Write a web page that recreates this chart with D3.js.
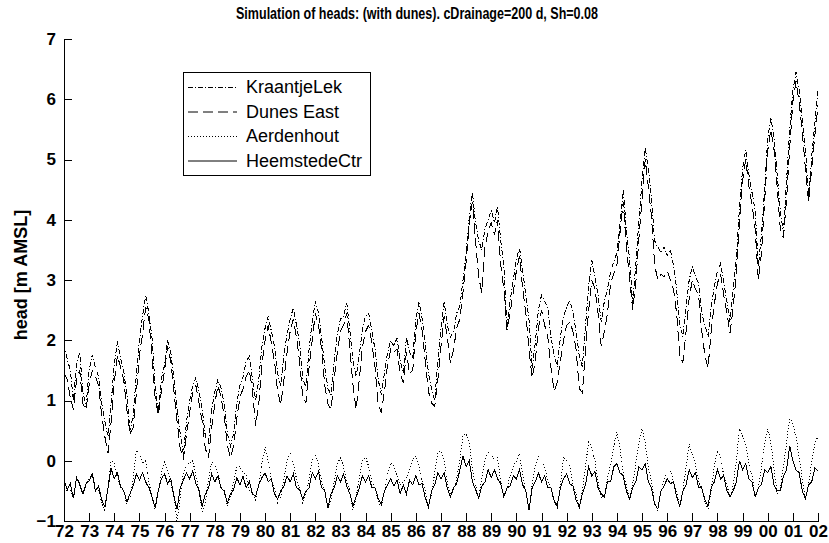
<!DOCTYPE html>
<html>
<head>
<meta charset="utf-8">
<script src="https://cdn.jsdelivr.net/npm/d3@7"></script>
<style>
body { margin: 0; background: #fff; }
</style>
</head>
<body>
<script>
var width = 829, height = 543;
var margins = { top: 39, left: 64, right: 11, bottom: 22 };
var narrow = "'Liberation Sans Narrow', 'Arial Narrow', 'Liberation Sans', Arial, sans-serif";

var titleText = 'Simulation of heads: (with dunes). cDrainage=200 d, Sh=0.08';
var yLabel = 'head [m AMSL]';
var seriesNames = ['KraantjeLek', 'Dunes East', 'Aerdenhout', 'HeemstedeCtr'];
var yearTicks = ['72','73','74','75','76','77','78','79','80','81','82','83','84','85','86',
                 '87','88','89','90','91','92','93','94','95','96','97','98','99','00','01','02'];
var headTicks = [-1, 0, 1, 2, 3, 4, 5, 6, 7];

// heads, 8 readings per year from jan 1972 to jan 2002
var kraantjeLek = [
  1.93, 1.7, 1.5, 1.0, 1.6, 1.8, 1.15, 0.9,
  1.5, 1.76, 1.55, 1.4, 0.95, 0.65, 0.4, 0.95,
  1.6, 1.98, 1.7, 1.5, 1.1, 0.5, 0.75, 1.4,
  2.0, 2.4, 2.75, 2.45, 2.05, 1.25, 0.8, 1.35,
  1.6, 2.0, 1.8, 1.35, 0.85, 0.45, 0.1, 0.65,
  1.0, 1.25, 1.38, 1.15, 0.85, 0.4, 0.3, 0.85,
  1.15, 1.35, 1.2, 0.95, 0.45, 0.25, 0.45, 0.95,
  1.25, 1.4, 1.65, 1.73, 1.35, 1.0, 1.35, 1.9,
  2.2, 2.4, 2.15, 1.9, 1.45, 1.23, 1.75, 2.1,
  2.35, 2.54, 2.25, 1.95, 1.35, 1.23, 1.85, 2.3,
  2.65, 2.45, 2.05, 1.55, 1.2, 1.1, 1.65, 2.1,
  2.35, 2.4, 2.62, 2.15, 1.65, 1.4, 1.75, 2.2,
  2.4, 2.45, 2.15, 1.85, 1.35, 1.1, 1.45, 1.8,
  2.0, 1.9, 2.04, 1.65, 1.46, 2.06, 1.8, 1.7,
  2.35, 2.64, 2.35, 1.95, 1.45, 1.2, 1.0, 1.65,
  2.2, 2.64, 2.25, 2.05, 2.15, 2.45, 2.56, 3.0,
  3.45, 4.05, 4.45, 3.95, 3.65, 3.5, 3.85, 4.0,
  4.15, 3.95, 4.22, 3.65, 3.25, 2.2, 2.65, 3.0,
  3.35, 3.53, 3.15, 2.75, 2.35, 1.54, 1.95, 2.5,
  2.75, 2.65, 2.55, 2.05, 1.75, 1.56, 2.05, 2.4,
  2.55, 2.67, 2.45, 2.15, 1.75, 1.56, 2.25, 2.9,
  3.33, 3.05, 2.75, 2.3, 2.65, 2.85, 3.15, 3.3,
  3.45, 3.95, 4.5, 3.85, 3.35, 2.62, 3.25, 4.0,
  4.65, 5.2, 4.85, 4.35, 3.65, 3.55, 3.45, 3.55,
  3.4, 3.5, 3.25, 2.85, 2.25, 2.06, 2.55, 3.0,
  3.22, 3.05, 2.95, 2.45, 2.25, 2.06, 2.55, 2.9,
  3.15, 3.28, 2.95, 2.65, 2.3, 2.85, 3.37, 4.2,
  4.85, 5.16, 4.75, 4.45, 4.16, 3.22, 3.75, 4.5,
  5.35, 5.7, 5.35, 4.75, 4.15, 3.78, 4.65, 5.5,
  6.15, 6.45, 6.15, 5.65, 5.16, 4.38, 5.05, 5.6,
  6.15
];
var dunesEast = [
  1.46, 1.35, 1.05, 0.85, 1.35, 1.5, 0.95, 0.85,
  1.25, 1.5, 1.4, 1.25, 0.75, 0.4, 0.13, 0.65,
  1.3, 1.75, 1.55, 1.35, 0.85, 0.45, 0.55, 1.1,
  1.75, 2.1, 2.55, 2.35, 1.75, 1.06, 0.75, 1.15,
  1.5, 1.9, 1.65, 1.15, 0.65, 0.2, 0.02, 0.45,
  0.8, 1.15, 1.25, 0.95, 0.65, 0.2, 0.05, 0.55,
  0.95, 1.25, 1.05, 0.75, 0.25, 0.05, 0.25, 0.7,
  1.05, 1.2, 1.4, 1.5, 1.15, 0.57, 0.95, 1.6,
  2.0, 2.25, 1.95, 1.65, 1.15, 0.93, 1.35, 1.8,
  2.15, 2.35, 2.05, 1.65, 1.05, 0.96, 1.55, 2.0,
  2.45, 2.25, 1.85, 1.25, 0.95, 0.85, 1.35, 1.8,
  2.15, 2.25, 2.45, 1.85, 1.25, 0.85, 1.35, 1.9,
  2.15, 2.25, 1.95, 1.55, 0.95, 0.8, 1.15, 1.6,
  1.85, 1.8, 1.85, 1.45, 1.3, 1.8, 1.45, 1.5,
  2.15, 2.45, 2.15, 1.65, 1.15, 0.96, 0.9, 1.35,
  1.9, 2.4, 2.05, 1.62, 1.85, 2.2, 2.35, 2.8,
  3.3, 3.95, 4.3, 3.65, 3.05, 2.79, 3.55, 3.8,
  3.95, 3.75, 4.0, 3.25, 2.85, 2.17, 2.45, 2.8,
  3.15, 3.4, 2.85, 2.45, 1.85, 1.37, 1.65, 2.2,
  2.5, 2.25, 2.05, 1.55, 1.15, 1.3, 1.65, 2.0,
  2.25, 2.3, 2.15, 1.85, 1.2, 1.13, 1.85, 2.5,
  3.0, 2.85, 2.45, 1.9, 2.15, 2.45, 2.95, 3.1,
  3.25, 3.8, 4.3, 3.55, 3.05, 2.5, 2.95, 3.7,
  4.35, 5.0, 4.55, 4.05, 3.25, 3.0, 3.1, 3.05,
  3.15, 3.0, 2.85, 2.45, 1.75, 1.63, 2.15, 2.7,
  3.0, 2.85, 2.75, 2.15, 1.75, 1.54, 2.15, 2.6,
  2.95, 3.1, 2.75, 2.45, 2.12, 2.55, 3.1, 3.9,
  4.65, 5.0, 4.55, 4.25, 3.85, 3.0, 3.45, 4.3,
  5.15, 5.5, 5.15, 4.55, 3.85, 3.7, 4.35, 5.2,
  5.95, 6.3, 5.95, 5.45, 4.85, 4.3, 4.85, 5.4,
  5.9
];
var aerdenhout = [
  -0.35, -0.5, -0.5, -0.62, -0.3, -0.35, -0.55, -0.4,
  -0.3, -0.2, -0.45, -0.5, -0.7, -0.82, -0.45, 0.0,
  -0.05, -0.25, -0.45, -0.5, -0.72, -0.6, -0.3, 0.17,
  0.1, -0.05, 0.0, -0.35, -0.6, -0.8, -0.5, -0.2,
  0.0, -0.15, -0.4, -0.55, -1.02, -0.6, -0.2, -0.05,
  -0.05, 0.0, -0.25, -0.5, -0.86, -0.7, -0.3, -0.02,
  -0.05, -0.2, -0.45, -0.5, -0.75, -0.6, -0.35, -0.1,
  -0.1, -0.2, -0.25, -0.5, -0.55, -0.65, -0.4, -0.05,
  0.23, 0.0, -0.3, -0.45, -0.7, -0.6, -0.3, 0.0,
  0.12, -0.05, -0.3, -0.45, -0.7, -0.55, -0.3, 0.0,
  0.1, -0.05, -0.35, -0.5, -0.8, -0.65, -0.35, -0.05,
  0.05, -0.1, -0.35, -0.5, -0.82, -0.6, -0.3, 0.0,
  0.06, -0.1, -0.35, -0.45, -0.68, -0.78, -0.5, -0.2,
  -0.03, -0.1, -0.25, -0.4, -0.35, -0.3, -0.15, 0.02,
  0.08, -0.1, -0.35, -0.5, -0.8, -0.55, -0.2, 0.15,
  0.15, 0.0, -0.35, -0.55, -0.5, -0.3, 0.0, 0.42,
  0.45, 0.3, -0.15, -0.4, -0.62, -0.3, 0.0, 0.14,
  0.1, 0.0, 0.05, -0.35, -0.6, -0.45, -0.25, -0.1,
  0.0, 0.12, -0.25, -0.5, -0.82, -0.4, -0.1, 0.08,
  0.05, -0.1, -0.35, -0.45, -0.68, -0.78, -0.4, 0.07,
  0.0, -0.1, -0.4, -0.55, -0.8, -0.5, -0.1, 0.33,
  0.2, 0.0, -0.35, -0.62, -0.55, -0.3, -0.05, 0.25,
  0.48, 0.2, -0.2, -0.4, -0.65, -0.4, -0.05, 0.3,
  0.53, 0.3, -0.1, -0.35, -0.7, -0.85, -0.5, -0.3,
  -0.2, -0.15, -0.35, -0.5, -0.78, -0.5, -0.1, 0.28,
  0.1, -0.05, -0.35, -0.45, -0.68, -0.8, -0.5, -0.1,
  0.17, 0.05, -0.25, -0.4, -0.62, -0.4, 0.0, 0.53,
  0.4, 0.25, -0.05, -0.25, -0.6, -0.45, -0.1, 0.3,
  0.53, 0.3, -0.15, -0.55, -0.45, -0.1, 0.3, 0.72,
  0.6, 0.4, 0.05, -0.3, -0.63, -0.4, 0.0, 0.3,
  0.4
];
var heemstedeCtr = [
  -0.31, -0.48, -0.38, -0.62, -0.28, -0.4, -0.55, -0.38,
  -0.33, -0.22, -0.5, -0.42, -0.65, -0.76, -0.45, -0.13,
  -0.3, -0.2, -0.42, -0.5, -0.68, -0.55, -0.42, -0.22,
  -0.32, -0.2, -0.35, -0.45, -0.6, -0.78, -0.5, -0.3,
  -0.22, -0.38, -0.3, -0.6, -0.8, -0.45, -0.32, -0.2,
  -0.3, -0.17, -0.38, -0.5, -0.76, -0.55, -0.45, -0.22,
  -0.35, -0.25, -0.45, -0.5, -0.7, -0.55, -0.48, -0.28,
  -0.4, -0.26, -0.45, -0.35, -0.55, -0.59, -0.4, -0.28,
  -0.2, -0.35, -0.3, -0.55, -0.64, -0.5, -0.42, -0.25,
  -0.35, -0.22, -0.45, -0.48, -0.64, -0.5, -0.45, -0.2,
  -0.3, -0.18, -0.45, -0.5, -0.78, -0.55, -0.45, -0.25,
  -0.35, -0.22, -0.42, -0.55, -0.75, -0.6, -0.45, -0.25,
  -0.35, -0.25, -0.45, -0.45, -0.62, -0.72, -0.5, -0.4,
  -0.3, -0.42, -0.32, -0.55, -0.4, -0.55, -0.32, -0.4,
  -0.25, -0.4, -0.38, -0.62, -0.76, -0.5, -0.4, -0.2,
  -0.3, -0.2, -0.45, -0.6, -0.45, -0.38, -0.15, 0.08,
  -0.1, 0.0, -0.35, -0.48, -0.62, -0.42, -0.35, -0.15,
  -0.28, -0.15, -0.3, -0.38, -0.6, -0.45, -0.42, -0.25,
  -0.3, -0.15, -0.4, -0.5, -0.82, -0.45, -0.35, -0.2,
  -0.35, -0.25, -0.45, -0.45, -0.65, -0.75, -0.45, -0.3,
  -0.22, -0.38, -0.42, -0.65, -0.77, -0.55, -0.4, -0.1,
  -0.25, -0.18, -0.45, -0.55, -0.6, -0.35, -0.35, -0.1,
  -0.05, -0.2, -0.25, -0.5, -0.63, -0.45, -0.35, -0.1,
  -0.15, -0.05, -0.35, -0.45, -0.72, -0.8, -0.5, -0.42,
  -0.3, -0.38, -0.35, -0.6, -0.75, -0.5, -0.4, -0.15,
  -0.28, -0.2, -0.45, -0.45, -0.65, -0.75, -0.45, -0.35,
  -0.15, -0.3, -0.25, -0.5, -0.6, -0.5, -0.35, 0.0,
  -0.15, -0.05, -0.3, -0.35, -0.6, -0.45, -0.4, -0.15,
  -0.2, -0.1, -0.4, -0.5, -0.5, -0.25, -0.15, 0.25,
  0.0, -0.15, -0.2, -0.5, -0.63, -0.4, -0.35, -0.12,
  -0.17
];
var dashPatterns = ['5,2,1,2', '10,5', '1,2', null];

var svg = d3.select('body')
  .append('svg')
  .attr('width', width)
  .attr('height', height)
  .style('font-family', narrow);

var x = d3.scaleLinear().domain([1972, 2002]).range([margins.left, width - margins.right]);
var y = d3.scaleLinear().domain([-1, 7]).range([height - margins.bottom, margins.top]);

// one reading every 1/8 year
function toPoints(values) {
  return values.map(function (v, i) { return { t: 1972 + i / 8, h: v }; });
}
var allSeries = [kraantjeLek, dunesEast, aerdenhout, heemstedeCtr].map(toPoints);

var line = d3.line().x(function (d) { return x(d.t); }).y(function (d) { return y(d.h); });

svg.selectAll('path.series')
  .data(allSeries)
  .enter().append('path')
  .attr('class', 'series')
  .attr('d', line)
  .attr('fill', 'none')
  .attr('stroke', '#000')
  .attr('stroke-width', 1)
  .attr('stroke-dasharray', function (d, i) { return dashPatterns[i]; })
  .attr('shape-rendering', 'crispEdges');

// axes: ticks point inward, no box
var years = d3.range(1972, 2003);
var xAxis = d3.axisBottom(x)
  .tickValues(years)
  .tickSizeInner(-8).tickSizeOuter(0).tickPadding(4)
  .tickFormat(function (d, i) { return yearTicks[i]; });
var yAxis = d3.axisLeft(y)
  .tickValues(headTicks)
  .tickSizeInner(-8).tickSizeOuter(0).tickPadding(8)
  .tickFormat(d3.format('d'));

var gx = svg.append('g')
  .attr('transform', 'translate(0,' + (height - margins.bottom) + ')')
  .call(xAxis);
var gy = svg.append('g')
  .attr('transform', 'translate(' + margins.left + ',0)')
  .call(yAxis);

[gx, gy].forEach(function (g) {
  g.selectAll('path, line').attr('stroke', '#000').attr('shape-rendering', 'crispEdges');
  g.selectAll('text')
    .attr('fill', '#000')
    .style('font-family', narrow)
    .style('font-size', '17px')
    .style('font-weight', 'bold');
});

svg.append('text')
  .attr('x', 417).attr('y', 19)
  .attr('text-anchor', 'middle')
  .attr('textLength', 362)
  .attr('lengthAdjust', 'spacingAndGlyphs')
  .style('font-family', "'Liberation Sans', Arial, sans-serif")
  .style('font-size', '16px')
  .style('font-weight', 'bold')
  .text(titleText);

svg.append('text')
  .attr('transform', 'translate(27,275) rotate(-90)')
  .attr('text-anchor', 'middle')
  .style('font-size', '18px')
  .style('font-weight', 'bold')
  .text(yLabel);

// legend
var legend = svg.append('g').attr('transform', 'translate(183,72)');
legend.append('rect')
  .attr('x', 0.5).attr('y', 0.5)
  .attr('width', 187).attr('height', 103)
  .attr('fill', '#fff').attr('stroke', '#000');
var items = legend.selectAll('g.item')
  .data(seriesNames)
  .enter().append('g')
  .attr('class', 'item')
  .attr('transform', function (d, i) { return 'translate(0,' + (15 + i * 24.5) + ')'; });
items.append('line')
  .attr('x1', 5).attr('x2', 54).attr('y1', 0.5).attr('y2', 0.5)
  .attr('stroke', '#000')
  .attr('stroke-dasharray', function (d, i) { return dashPatterns[i]; });
items.append('text')
  .attr('x', 63).attr('y', 6)
  .style('font-family', "'Liberation Sans', Arial, sans-serif")
  .style('font-size', '18px')
  .text(function (d) { return d; });
</script>
</body>
</html>
